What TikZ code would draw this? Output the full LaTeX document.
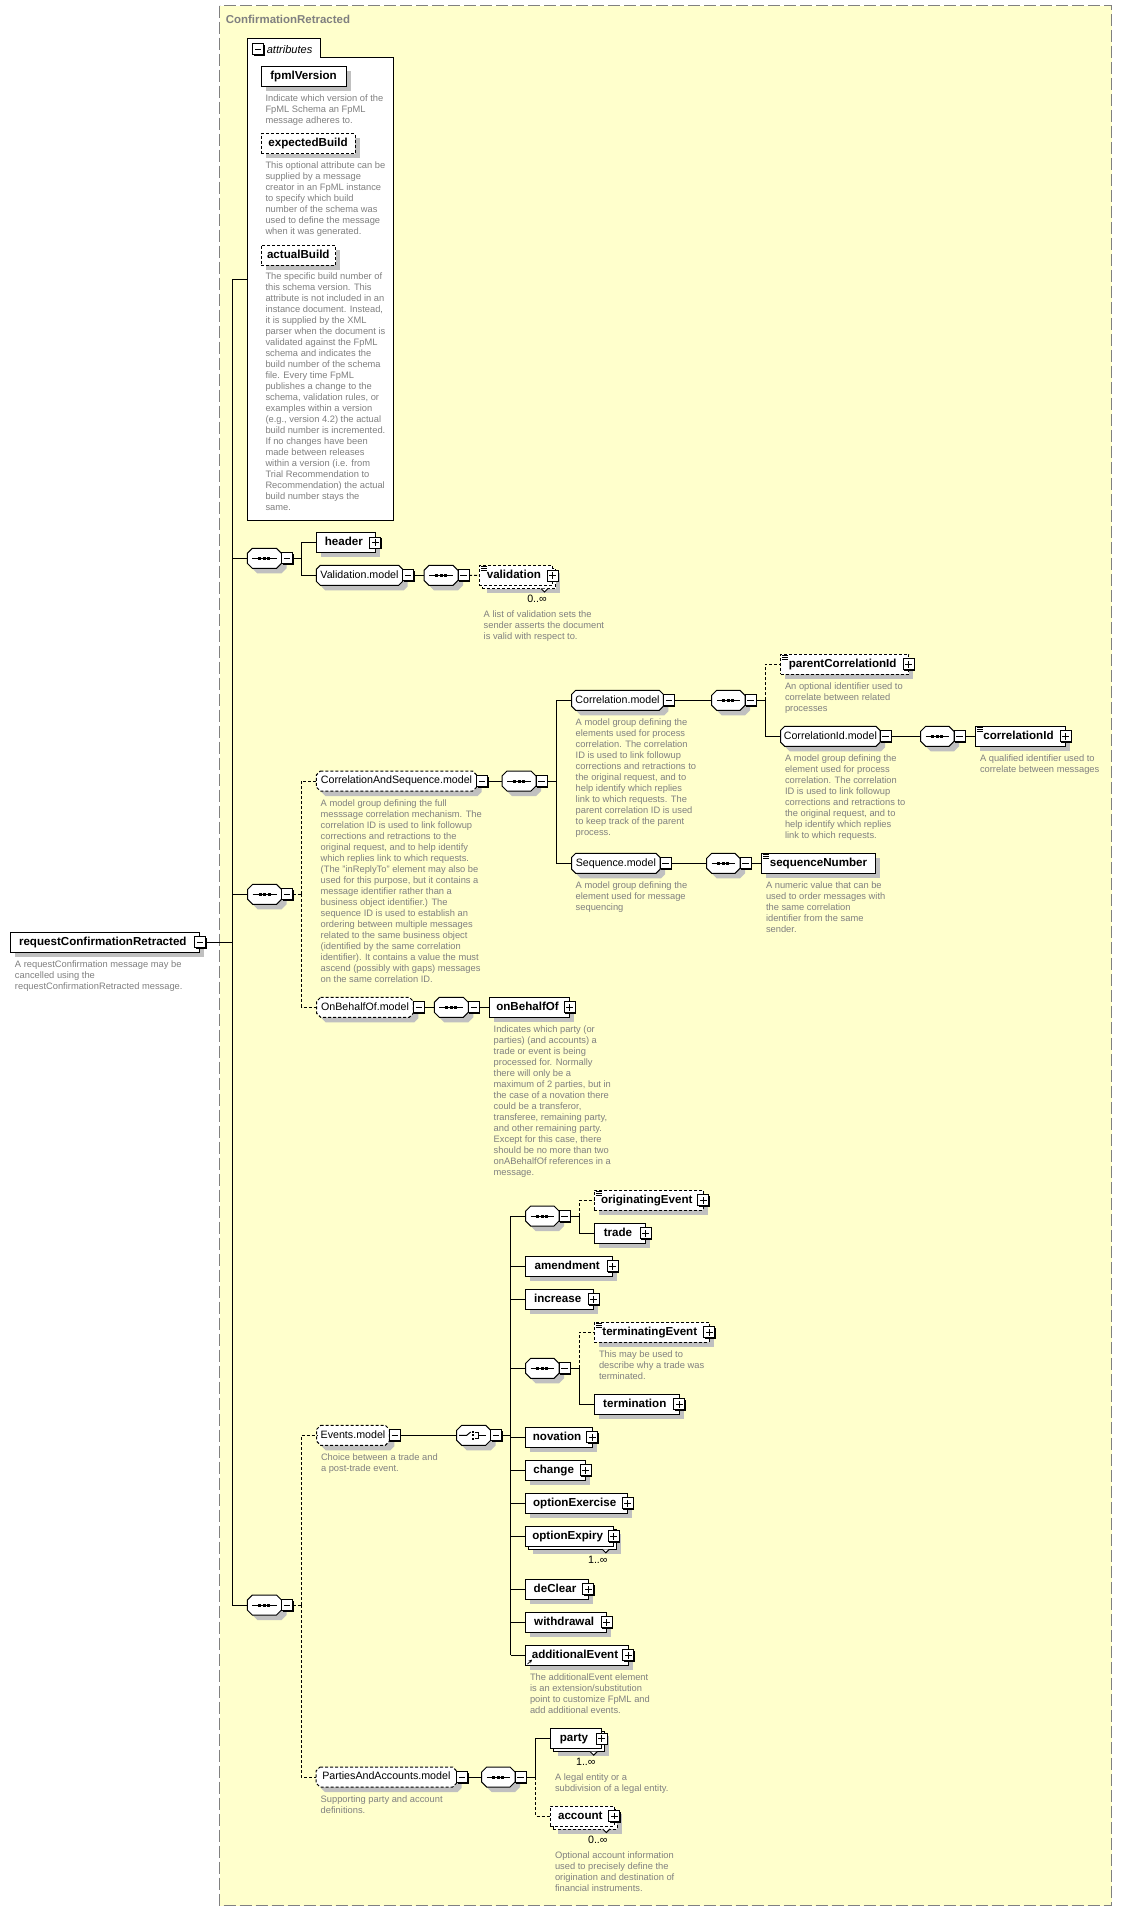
\documentclass[tikz,border=0pt]{standalone}
\usepackage{fontspec}
\setmainfont{Liberation Sans}
\usetikzlibrary{shadows,calc,arrows.meta}
\definecolor{bgyellow}{RGB}{255,255,204}
\definecolor{txtgray}{RGB}{128,128,128}
\definecolor{shgray}{RGB}{192,192,192}
\newcommand{\descfont}{\fontsize{7}{8.25}\selectfont}
\newcommand{\elfont}{\fontsize{8.7}{10}\selectfont\bfseries}
\newcommand{\mdfont}{\fontsize{8}{10}\selectfont}
% octagon / model-group shape: [style]{name}{x1}{x2}{yc}{chamfer}{text}
\newcommand{\octo}[7][]{%
  \pgfmathsetmacro{\octW}{#4-#3}%
  \pgfmathsetmacro{\octC}{#6}%
  \begin{scope}[shift={(#3,#5)}]
    \fill[shgray] ({\octC+5},-5) -- ({\octW-\octC+5},-5) -- ({\octW+5},{-5+\octC}) -- ({\octW+5},{15-\octC}) -- ({\octW-\octC+5},15) -- ({\octC+5},15) -- (5,{15-\octC}) -- (5,{-5+\octC}) -- cycle;
    \draw[fill=white,#1] (\octC,-10) -- ({\octW-\octC},-10) -- (\octW,{-10+\octC}) -- (\octW,{10-\octC}) -- ({\octW-\octC},10) -- (\octC,10) -- (0,{10-\octC}) -- (0,{-10+\octC}) -- cycle;
  \end{scope}
  \node[mdl, minimum width={\octW*0.75pt}] (#2) at (#3,#5) {#7};%
}
\newcommand{\seqi}[1]{%
  \draw ($(#1.west)+(5,0)$) -- ($(#1.east)+(-5,0)$);
  \foreach \dd in {-4.5,0,4.5}{\fill ($(#1.center)+(\dd,0)+(-1.5,-1.5)$) rectangle ++(3,3);}
}
\newcommand{\choi}[1]{%
  \draw ($(#1.west)+(2.5,0)$) -- ($(#1.west)+(10,0)$) -- ($(#1.west)+(14,-3.3)$);
  \foreach \dd in {-3.3,0,3.3}{\fill ($(#1.west)+(16.6,\dd)+(-1.1,-1.1)$) rectangle ++(2.2,2.2);}
  \draw ($(#1.west)+(18.6,-2.8)$) -- ($(#1.west)+(22,-2.8)$) -- ($(#1.west)+(22,2.8)$) -- ($(#1.west)+(18.6,2.8)$);
  \draw ($(#1.west)+(22,0)$) -- ($(#1.west)+(29.5,0)$);
}
\newcommand{\docicon}[1]{\foreach \dy in {1,3,5}{\draw[line width=0.6pt] ($(#1.north west)+(1.5,\dy)$) -- ++(6,0);}}
\newcommand{\notchmark}[2]{\draw[fill=white] ({#1-3.5},#2) -- (#1,{#2+3.5}) -- ({#1+3.5},#2);}
\tikzset{
  base/.style={line width=0.75pt, inner sep=0pt, outer sep=0pt},
  shad/.style={drop shadow={shadow xshift=3.4pt, shadow yshift=-3.4pt, fill=shgray, opacity=1}},
  dl/.style={dash pattern=on 2.25pt off 1.5pt},
  bw/.style={minimum width=#1*0.75pt},
  elem/.style={base, draw, fill=white, rectangle, minimum height=15pt, anchor=west, font=\elfont, text height=6.3pt, text depth=1.8pt},
  eshad/.style={elem, shad},
  wp/.style={execute at end node={\kern3pt}},
  mdl/.style={base, anchor=west, minimum height=15pt, font=\mdfont, text height=5.8pt, text depth=1.7pt},
  desc/.style={base, anchor=north west, align=left, font=\descfont, text=txtgray},
  sqbox/.style={base, draw, fill=white, minimum size=8.25pt, drop shadow={shadow xshift=0.75pt, shadow yshift=-0.75pt, fill=black, opacity=1}},
  plusb/.style={sqbox, path picture={\draw[line width=0.75pt] ([xshift=1.7pt]path picture bounding box.west) -- ([xshift=-1.7pt]path picture bounding box.east); \draw[line width=0.75pt] ([yshift=-1.7pt]path picture bounding box.north) -- ([yshift=1.7pt]path picture bounding box.south);}},
  minusb/.style={sqbox, path picture={\draw[line width=0.75pt] ([xshift=1.7pt]path picture bounding box.west) -- ([xshift=-1.7pt]path picture bounding box.east);}},
  mult/.style={base, font=\mdfont},
}
\begin{document}
\begin{tikzpicture}[x=0.75pt,y=-0.75pt,line width=0.75pt]
\useasboundingbox (0,0) rectangle (1122,1911);
\fill[white] (0,0) rectangle (1122,1911);
% outer group
\draw[draw=txtgray, fill=bgyellow, dash pattern=on 9pt off 3pt] (219.5,5.5) rectangle (1111.5,1905.5);
\node[base, anchor=base west, font=\fontsize{8.6}{10}\selectfont\bfseries, text=txtgray] (title) at (225.8,23.3) {ConfirmationRetracted};

% root
\node[eshad, wp, bw=189] (root) at (10.3,942.3) {requestConfirmationRetracted};
\node[minusb] (rootM) at (200.2,942.3) {};
\node[desc] (dRoot) at (15,960.3) {A requestConfirmation message may be\\cancelled using the\\requestConfirmationRetracted message.};

% attributes
\draw[fill=white] (247.2,38.3) -- (320.2,38.3) -- (320.2,57.2) -- (393.6,57.2) -- (393.6,520) -- (247.2,520) -- cycle;
\node[base, minimum width=146.4*0.75pt, minimum height=481.7*0.75pt, anchor=north west] (attrs) at (247.2,38.3) {};
\node[minusb] (attrM) at (258,49) {};
\node[base, anchor=west, font=\fontsize{8.3}{10}\selectfont\itshape] (attrLbl) at (266.8,49.2) {attributes};
\node[eshad, bw=85] (fpmlVersion) at (261,76.5) {fpmlVersion};
\node[desc] (dFpml) at (265.5,94.6) {Indicate which version of the\\FpML Schema an FpML\\message adheres to.};
\node[eshad, dl, bw=94] (expectedBuild) at (261,143.6) {expectedBuild};
\node[desc] (dExp) at (265.5,161.3) {This optional attribute can be\\supplied by a message\\creator in an FpML instance\\to specify which build\\number of the schema was\\used to define the message\\when it was generated.};
\node[eshad, dl, bw=74.6] (actualBuild) at (261,255) {actualBuild};
\node[desc] (dAct) at (265.5,272.6) {The specific build number of\\this schema version. This\\attribute is not included in an\\instance document. Instead,\\it is supplied by the XML\\parser when the document is\\validated against the FpML\\schema and indicates the\\build number of the schema\\file. Every time FpML\\publishes a change to the\\schema, validation rules, or\\examples within a version\\(e.g., version 4.2) the actual\\build number is incremented.\\If no changes have been\\made between releases\\within a version (i.e. from\\Trial Recommendation to\\Recommendation) the actual\\build number stays the\\same.};

% ---- first sequence: header, Validation.model
\octo{S1}{247.3}{281.5}{558.3}{5}{}
\seqi{S1}
\node[minusb, anchor=west] (S1m) at (S1.east) {};
\node[eshad, wp, bw=59] (header) at (316.3,542.5) {header};
\node[plusb] (headerP) at (header.east) {};
\octo{valM}{316.3}{402.7}{575.3}{4}{Validation.model}
\node[minusb, anchor=west] (valMm) at (valM.east) {};
\octo{S1b}{424}{458}{575.3}{5}{}
\seqi{S1b}
\node[minusb, anchor=west] (S1bm) at (S1b.east) {};
\node[eshad, dl, bw=73.2] (validationB) at (482.3,578.5) {};
\notchmark{544.5}{588.5}
\node[elem, dl, wp, bw=73.2] (validation) at (479.3,575.5) {validation};
\docicon{validation}
\node[plusb] (validationP) at (552.5,575.5) {};
\node[mult] (validationMult) at (537,599) {0..∞};
\node[desc] (dValidation) at (483.7,610.3) {A list of validation sets the\\sender asserts the document\\is valid with respect to.};

% ---- second sequence: CorrelationAndSequence.model, OnBehalfOf.model
\octo{S2}{247.7}{281.5}{894.3}{5}{}
\seqi{S2}
\node[minusb, anchor=west] (S2m) at (S2.east) {};
\octo[dl]{casM}{316.3}{476.7}{781}{4}{CorrelationAndSequence.model}
\node[minusb, anchor=west] (casMm) at (casM.east) {};
\node[desc] (dCAS) at (320.7,799.3) {A model group defining the full\\messsage correlation mechanism. The\\correlation ID is used to link followup\\corrections and retractions to the\\original request, and to help identify\\which replies link to which requests.\\(The "inReplyTo" element may also be\\used for this purpose, but it contains a\\message identifier rather than a\\business object identifier.) The\\sequence ID is used to establish an\\ordering between multiple messages\\related to the same business object\\(identified by the same correlation\\identifier). It contains a value the must\\ascend (possibly with gaps) messages\\on the same correlation ID.};
\octo{S3}{502}{536}{781}{5}{}
\seqi{S3}
\node[minusb, anchor=west] (S3m) at (S3.east) {};
\octo{corrM}{571.7}{663.3}{700.3}{4}{Correlation.model}
\node[minusb, anchor=west] (corrMm) at (corrM.east) {};
\node[desc] (dCorrM) at (575.7,718.3) {A model group defining the\\elements used for process\\correlation. The correlation\\ID is used to link followup\\corrections and retractions to\\the original request, and to\\help identify which replies\\link to which requests. The\\parent correlation ID is used\\to keep track of the parent\\process.};
\octo{seqM}{571.7}{660}{863.3}{4}{Sequence.model}
\node[minusb, anchor=west] (seqMm) at (seqM.east) {};
\node[desc] (dSeqM) at (575.7,881.3) {A model group defining the\\element used for message\\sequencing};
\octo{S4}{711.7}{745}{700.3}{5}{}
\seqi{S4}
\node[minusb, anchor=west] (S4m) at (S4.east) {};
\node[eshad, dl, wp, bw=128] (parentCorr) at (780.7,664.3) {parentCorrelationId};
\docicon{parentCorr}
\node[plusb] (parentCorrP) at (parentCorr.east) {};
\node[desc] (dParent) at (785,682.3) {An optional identifier used to\\correlate between related\\processes};
\octo{corrIdM}{780.7}{880}{736.3}{4}{CorrelationId.model}
\node[minusb, anchor=west] (corrIdMm) at (corrIdM.east) {};
\node[desc] (dCorrIdM) at (785,754.3) {A model group defining the\\element used for process\\correlation. The correlation\\ID is used to link followup\\corrections and retractions to\\the original request, and to\\help identify which replies\\link to which requests.};
\octo{S5}{920.7}{954}{736.3}{5}{}
\seqi{S5}
\node[minusb, anchor=west] (S5m) at (S5.east) {};
\node[eshad, wp, bw=90.4] (corrId) at (975.3,736.3) {correlationId};
\docicon{corrId}
\node[plusb] (corrIdP) at (corrId.east) {};
\node[desc] (dCorrId) at (980,754.3) {A qualified identifier used to\\correlate between messages};
\octo{S6}{706.7}{740}{863.3}{5}{}
\seqi{S6}
\node[minusb, anchor=west] (S6m) at (S6.east) {};
\node[eshad, bw=113.6] (seqNum) at (761.7,863.3) {sequenceNumber};
\docicon{seqNum}
\node[desc] (dSeqNum) at (766,881.3) {A numeric value that can be\\used to order messages with\\the same correlation\\identifier from the same\\sender.};
\octo[dl]{obM}{316.7}{413.3}{1007.3}{4}{OnBehalfOf.model}
\node[minusb, anchor=west] (obMm) at (obM.east) {};
\octo{S7}{434.3}{468.3}{1007.3}{5}{}
\seqi{S7}
\node[minusb, anchor=west] (S7m) at (S7.east) {};
\node[eshad, wp, bw=80.4] (onBehalfOf) at (489.3,1007.3) {onBehalfOf};
\node[plusb] (onBehalfOfP) at (onBehalfOf.east) {};
\node[desc] (dOnBehalf) at (493.7,1025.3) {Indicates which party (or\\parties) (and accounts) a\\trade or event is being\\processed for. Normally\\there will only be a\\maximum of 2 parties, but in\\the case of a novation there\\could be a transferor,\\transferee, remaining party,\\and other remaining party.\\Except for this case, there\\should be no more than two\\onABehalfOf references in a\\message.};

% ---- third sequence: Events.model, PartiesAndAccounts.model
\octo{S8}{247.3}{281.5}{1605}{5}{}
\seqi{S8}
\node[minusb, anchor=west] (S8m) at (S8.east) {};
\octo[dl]{evM}{316.7}{389.3}{1435.3}{4}{Events.model}
\node[minusb, anchor=west] (evMm) at (evM.east) {};
\node[desc] (dEvents) at (321,1453.3) {Choice between a trade and\\a post-trade event.};
\octo{C1}{456.7}{490.7}{1435.3}{5}{}
\choi{C1}
\node[minusb, anchor=west] (C1m) at (C1.east) {};
\octo{S9}{525.7}{559}{1216}{5}{}
\seqi{S9}
\node[minusb, anchor=west] (S9m) at (S9.east) {};
\node[eshad, dl, wp, bw=109] (origEv) at (594.3,1200.3) {originatingEvent};
\docicon{origEv}
\node[plusb] (origEvP) at (origEv.east) {};
\node[eshad, wp, bw=51.4] (trade) at (594.3,1233.3) {trade};
\node[plusb] (tradeP) at (trade.east) {};
\node[eshad, wp, bw=87] (amendment) at (525.7,1266.3) {amendment};
\node[plusb] (amendmentP) at (amendment.east) {};
\node[eshad, wp, bw=68] (increase) at (525.7,1299.3) {increase};
\node[plusb] (increaseP) at (increase.east) {};
\octo{S10}{525.7}{559}{1368.3}{5}{}
\seqi{S10}
\node[minusb, anchor=west] (S10m) at (S10.east) {};
\node[eshad, dl, wp, bw=115] (termEv) at (594.3,1332.3) {terminatingEvent};
\docicon{termEv}
\node[plusb] (termEvP) at (termEv.east) {};
\node[desc] (dTermEv) at (599,1350.3) {This may be used to\\describe why a trade was\\terminated.};
\node[eshad, wp, bw=85] (termination) at (594.3,1404.3) {termination};
\node[plusb] (terminationP) at (termination.east) {};
\node[eshad, wp, bw=66.6] (novation) at (525.7,1437.3) {novation};
\node[plusb] (novationP) at (novation.east) {};
\node[eshad, wp, bw=60] (change) at (525.7,1470.3) {change};
\node[plusb] (changeP) at (change.east) {};
\node[eshad, wp, bw=102] (optionExercise) at (525.7,1503.3) {optionExercise};
\node[plusb] (optionExerciseP) at (optionExercise.east) {};
\node[eshad, bw=88] (optionExpiryB) at (528.7,1539.3) {};
\notchmark{605.8}{1549.3}
\node[elem, wp, bw=88] (optionExpiry) at (525.7,1536.3) {optionExpiry};
\node[plusb] (optionExpiryP) at (optionExpiry.east) {};
\node[mult] (optionExpiryMult) at (597.8,1560) {1..∞};
\node[eshad, wp, bw=62.6] (deClear) at (525.7,1589.3) {deClear};
\node[plusb] (deClearP) at (deClear.east) {};
\node[eshad, wp, bw=81] (withdrawal) at (525.7,1622.3) {withdrawal};
\node[plusb] (withdrawalP) at (withdrawal.east) {};
\node[eshad, wp, bw=102.6] (addEv) at (525.7,1655.3) {additionalEvent};
\node[plusb] (addEvP) at (addEv.east) {};
\draw[line width=0.6pt, -{Stealth[length=2.6pt,width=2.6pt]}] ($(addEv.south west)+(1.8,-1.2)$) -- ++(4.5,-4.5);
\node[desc] (dAddEv) at (530,1673.3) {The additionalEvent element\\is an extension/substitution\\point to customize FpML and\\add additional events.};
\octo[dl]{paM}{316}{456.7}{1777}{4}{PartiesAndAccounts.model}
\node[minusb, anchor=west] (paMm) at (paM.east) {};
\node[desc] (dPA) at (320.7,1795.3) {Supporting party and account\\definitions.};
\octo{S11}{481.7}{515}{1777}{5}{}
\seqi{S11}
\node[minusb, anchor=west] (S11m) at (S11.east) {};
\node[eshad, bw=51.4] (partyB) at (553.3,1741.7) {};
\notchmark{593.7}{1751.7}
\node[elem, wp, bw=51.4] (party) at (550.3,1738.7) {party};
\node[plusb] (partyP) at (party.east) {};
\node[mult] (partyMult) at (585.8,1762.3) {1..∞};
\node[desc] (dParty) at (555,1773.3) {A legal entity or a\\subdivision of a legal entity.};
\node[eshad, dl, bw=64] (accountB) at (553.3,1819) {};
\notchmark{606.3}{1829}
\node[elem, dl, wp, bw=64] (account) at (550.3,1816) {account};
\node[plusb] (accountP) at (account.east) {};
\node[mult] (accountMult) at (597.8,1840) {0..∞};
\node[desc] (dAccount) at (555,1851.3) {Optional account information\\used to precisely define the\\origination and destination of\\financial instruments.};

% ---- connectors
\coordinate (mvTop) at (232.3,279.8);
\coordinate (mvBot) at (232.3,1605);
\coordinate (mvRoot) at (232.3,942.3);
\draw (mvTop) -- (mvBot);
\draw (rootM.east) -- (mvRoot);
\draw (mvTop) -- (mvTop -| attrs.west);
\draw (mvTop |- S1.west) -- (S1.west);
\draw (mvTop |- S2.west) -- (S2.west);
\draw (mvTop |- S8.west) -- (S8.west);
% S1
\coordinate (b1) at (301.3,558.3);
\draw (S1m.east) -- (b1);
\draw (b1) |- (header.west);
\draw (b1) |- (valM.west);
\draw (valMm.east) -- (S1b.west);
\draw[dl] (S1bm.east) -- (validation.west);
% S2
\coordinate (b2) at (301.7,894.3);
\draw[dl] (S2m.east) -- (b2);
\draw[dl] (b2) |- (casM.west);
\draw[dl] (b2) |- (obM.west);
\draw (casMm.east) -- (S3.west);
\coordinate (b3) at (556.7,781);
\draw (S3m.east) -- (b3);
\draw (b3) |- (corrM.west);
\draw (b3) |- (seqM.west);
\draw (corrMm.east) -- (S4.west);
\coordinate (b4) at (765.3,700.3);
\draw (S4m.east) -- (b4);
\draw[dl] (b4) |- (parentCorr.west);
\draw (b4) |- (corrIdM.west);
\draw (corrIdMm.east) -- (S5.west);
\draw (S5m.east) -- (corrId.west);
\draw (seqMm.east) -- (S6.west);
\draw (S6m.east) -- (seqNum.west);
\draw (obMm.east) -- (S7.west);
\draw (S7m.east) -- (onBehalfOf.west);
% S8
\coordinate (b8) at (301.3,1605);
\draw[dl] (S8m.east) -- (b8);
\draw[dl] (b8) |- (evM.west);
\draw[dl] (b8) |- (paM.west);
\draw (evMm.east) -- (C1.west);
\coordinate (bc) at (510.7,1435.3);
\coordinate (bcTop) at (510.7,1216);
\coordinate (bcBot) at (510.7,1655.3);
\draw (C1m.east) -- (bc);
\draw (bcTop) -- (bcBot);
\foreach \nm in {S9,amendment,increase,S10,novation,change,optionExpiry,optionExercise,deClear,withdrawal,addEv}{\draw (bcTop |- \nm.west) -- (\nm.west);}
\coordinate (b9) at (579.3,1216);
\draw (S9m.east) -- (b9);
\draw[dl] (b9) |- (origEv.west);
\draw (b9) |- (trade.west);
\coordinate (b10) at (579.3,1368.3);
\draw (S10m.east) -- (b10);
\draw[dl] (b10) |- (termEv.west);
\draw (b10) |- (termination.west);
\draw (paMm.east) -- (S11.west);
\coordinate (b11) at (535.7,1777);
\draw (S11m.east) -- (b11);
\draw (b11) |- (party.west);
\draw[dl] (b11) |- (account.west);
\end{tikzpicture}
\end{document}
